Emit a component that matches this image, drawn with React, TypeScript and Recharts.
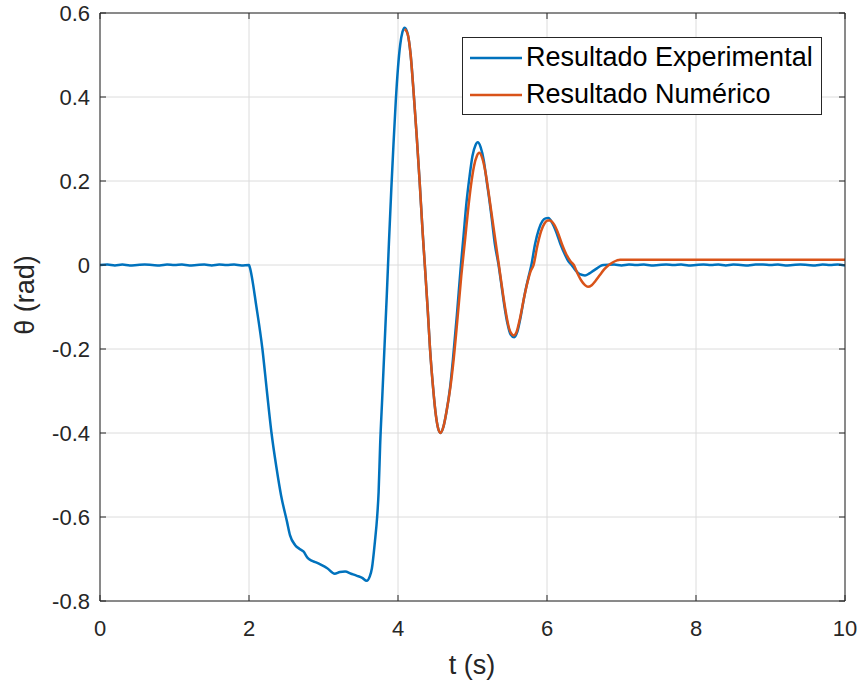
import { LineChart, Line, XAxis, YAxis, CartesianGrid, Legend } from 'recharts'

// time (s) / angle (rad) samples of the measured response
const expT = [
  0.0, 0.1, 0.2, 0.3, 0.4, 0.5, 0.6, 0.7, 0.8, 0.9, 1.0, 1.1, 1.2, 1.3, 1.4, 1.5, 1.6, 1.7, 1.8, 1.9,
  2.0, 2.01, 2.1, 2.18, 2.24, 2.3, 2.37, 2.43, 2.51, 2.55, 2.62, 2.68, 2.73, 2.79, 2.84, 2.9, 2.97, 3.05,
  3.15, 3.22, 3.29, 3.37, 3.45, 3.52, 3.58, 3.62, 3.65, 3.69, 3.72, 3.74, 3.76, 3.79, 3.82, 3.85, 3.88,
  3.91, 3.94, 3.97, 4.0, 4.03, 4.06, 4.09, 4.13, 4.17, 4.21, 4.25, 4.29, 4.33, 4.36, 4.4, 4.43, 4.47,
  4.51, 4.54, 4.57, 4.61, 4.65, 4.7, 4.74, 4.79, 4.84, 4.88, 4.92, 4.96, 5.0, 5.04, 5.07, 5.11, 5.15,
  5.19, 5.23, 5.26, 5.3, 5.35, 5.39, 5.43, 5.47, 5.51, 5.56, 5.6, 5.65, 5.7, 5.75, 5.79, 5.84, 5.89,
  5.94, 5.98, 6.02, 6.07, 6.12, 6.18, 6.24, 6.29, 6.33, 6.38, 6.44, 6.51, 6.57, 6.62, 6.67, 6.72, 6.76,
  6.9, 7.0, 7.1, 7.2, 7.3, 7.4, 7.5, 7.6, 7.7, 7.8, 7.9, 8.0, 8.1, 8.2, 8.3, 8.4, 8.5, 8.6, 8.7, 8.8,
  8.9, 9.0, 9.1, 9.2, 9.3, 9.4, 9.5, 9.6, 9.7, 9.8, 9.9, 10.0,
]
const expTheta = [
  0.0, 0.001, -0.001, 0.001, -0.001, 0.0, 0.001, 0.0, -0.001, 0.001, 0.0, 0.001, -0.001, 0.0, 0.001, -0.001, 0.001, 0.0, 0.001, -0.001,
  0.0, -0.005, -0.1, -0.2, -0.3, -0.397, -0.484, -0.548, -0.611, -0.643, -0.667, -0.676, -0.682, -0.698, -0.704, -0.708, -0.714, -0.722,
  -0.735, -0.731, -0.73, -0.735, -0.74, -0.745, -0.752, -0.742, -0.722, -0.659, -0.6, -0.54, -0.43, -0.31, -0.19, -0.07, 0.06,
  0.18, 0.29, 0.39, 0.47, 0.525, 0.555, 0.565, 0.55, 0.5, 0.41, 0.31, 0.2, 0.08, 0.0, -0.11, -0.2, -0.29,
  -0.36, -0.39, -0.4, -0.385, -0.35, -0.29, -0.22, -0.12, -0.01, 0.07, 0.15, 0.21, 0.26, 0.285, 0.292, 0.28, 0.25,
  0.2, 0.15, 0.108, 0.05, 0.0, -0.05, -0.1, -0.14, -0.165, -0.172, -0.16, -0.12, -0.07, -0.03, 0.0, 0.05, 0.085,
  0.105, 0.111, 0.112, 0.1, 0.08, 0.05, 0.025, 0.008, 0.0, -0.012, -0.022, -0.025, -0.02, -0.014, -0.008, -0.002, 0.0,
  0.001, -0.001, 0.001, 0.0, 0.001, -0.001, 0.0, 0.001, 0.0, 0.001, -0.001, 0.0, 0.001, 0.0, 0.001, -0.001, 0.001, 0.0, -0.001, 0.001,
  0.001, 0.0, 0.001, -0.001, 0.0, 0.001, 0.0, -0.001, 0.001, 0.0, 0.001, -0.001,
]

// simulated response, starts at the first peak
const numT = [
  4.09, 4.13, 4.17, 4.21, 4.25, 4.29, 4.33, 4.36, 4.4, 4.43, 4.47, 4.51, 4.54, 4.57, 4.61, 4.65, 4.7,
  4.75, 4.8, 4.85, 4.9, 4.94, 4.98, 5.02, 5.06, 5.09, 5.13, 5.17, 5.21, 5.25, 5.29, 5.33, 5.37, 5.41,
  5.45, 5.49, 5.52, 5.55, 5.59, 5.64, 5.69, 5.74, 5.78, 5.82, 5.87, 5.92, 5.97, 6.01, 6.04, 6.09, 6.14,
  6.2, 6.26, 6.32, 6.36, 6.41, 6.46, 6.51, 6.55, 6.6, 6.65, 6.71, 6.77, 6.83, 6.88, 6.94, 6.98, 8.0, 9.0, 10.0,
]
const numTheta = [
  0.562, 0.55, 0.5, 0.41, 0.31, 0.2, 0.08, 0.0, -0.11, -0.2, -0.29, -0.36, -0.39, -0.4, -0.385, -0.35, -0.295,
  -0.22, -0.125, -0.025, 0.06, 0.13, 0.19, 0.235, 0.26, 0.267, 0.255, 0.225, 0.18, 0.13, 0.08, 0.03, -0.02, -0.07,
  -0.115, -0.15, -0.163, -0.168, -0.16, -0.125, -0.08, -0.04, -0.015, 0.0, 0.045, 0.08, 0.1, 0.106, 0.106, 0.098, 0.08,
  0.05, 0.025, 0.008, 0.0, -0.02, -0.037, -0.048, -0.052, -0.048, -0.038, -0.024, -0.01, 0.0, 0.006, 0.011, 0.0126, 0.0126, 0.0126, 0.0126,
]

const xTicks = [0, 2, 4, 6, 8, 10]
const yTicks = [-0.8, -0.6, -0.4, -0.2, 0, 0.2, 0.4, 0.6]

const expData = expT.map((t, i) => ({ t, theta: expTheta[i] }))
const numData = numT.map((t, i) => ({ t, theta: numTheta[i] }))

const FONT = '"Liberation Sans", Arial, Helvetica, sans-serif'
const INK = '#262626'
const TICK_LEN = 6

const fmtY = (v: number) => (v === 0 ? '0' : v.toFixed(1))

// MATLAB style: ticks point into the plot box
const BottomTick = ({ x, y, payload }: any) => (
  <g>
    <line x1={x} x2={x} y1={y} y2={y - TICK_LEN} stroke={INK} />
    <text x={x} y={y + 35} textAnchor="middle" fontSize={22} fontFamily={FONT} fill={INK}>
      {payload.value}
    </text>
  </g>
)

const LeftTick = ({ x, y, payload }: any) => (
  <g>
    <line x1={x} x2={x + TICK_LEN} y1={y} y2={y} stroke={INK} />
    <text x={x - 10} y={y + 8} textAnchor="end" fontSize={22} fontFamily={FONT} fill={INK}>
      {fmtY(payload.value)}
    </text>
  </g>
)

const TopTick = ({ x, y }: any) => <line x1={x} x2={x} y1={y} y2={y + TICK_LEN} stroke={INK} />

const RightTick = ({ x, y }: any) => <line x1={x} x2={x - TICK_LEN} y1={y} y2={y} stroke={INK} />

const LegendBox = ({ payload }: any) => (
  <div
    style={{
      border: `1px solid ${INK}`,
      background: '#fff',
      padding: '1px 8px 1px 7px',
      fontFamily: FONT,
      fontSize: 27,
      color: '#000',
      lineHeight: '37px',
    }}
  >
    {(payload || []).map((p: any) => (
      <div key={p.value} style={{ display: 'flex', alignItems: 'center', whiteSpace: 'nowrap' }}>
        <svg width={52} height={10} style={{ marginRight: 4 }}>
          <line x1={0} x2={52} y1={5} y2={5} stroke={p.color} strokeWidth={2.5} />
        </svg>
        <span>{p.value}</span>
      </div>
    ))}
  </div>
)

export default function App() {
  return (
    <div>
      <style>{'body{margin:0;background:#fff}'}</style>
      <LineChart width={860} height={684} margin={{ top: 12, right: 14, left: 0, bottom: 0 }}>
        <CartesianGrid stroke="#dcdcdc" xAxisId="b" yAxisId="l" />
        <XAxis
          xAxisId="b"
          dataKey="t"
          type="number"
          domain={[0, 10]}
          ticks={xTicks}
          height={83}
          tickSize={0}
          tickMargin={0}
          tickLine={false}
          axisLine={{ stroke: INK }}
          tick={<BottomTick />}
          allowDataOverflow
          label={() => (
            <text x={472} y={674} textAnchor="middle" fontSize={27} fontFamily={FONT} fill={INK}>
              t (s)
            </text>
          )}
        />
        <XAxis
          xAxisId="top"
          orientation="top"
          dataKey="t"
          type="number"
          domain={[0, 10]}
          ticks={xTicks}
          height={1}
          tickSize={0}
          tickMargin={0}
          tickLine={false}
          axisLine={{ stroke: INK }}
          tick={<TopTick />}
          allowDataOverflow
        />
        <YAxis
          yAxisId="l"
          type="number"
          domain={[-0.8, 0.6]}
          ticks={yTicks}
          width={100}
          tickSize={0}
          tickMargin={0}
          tickLine={false}
          axisLine={{ stroke: INK }}
          tick={<LeftTick />}
          allowDataOverflow
          label={() => (
            <text
              x={34}
              y={295}
              transform="rotate(-90 34 295)"
              textAnchor="middle"
              fontSize={27}
              fontFamily={FONT}
              fill={INK}
            >
              θ (rad)
            </text>
          )}
        />
        <YAxis
          yAxisId="r"
          orientation="right"
          type="number"
          domain={[-0.8, 0.6]}
          ticks={yTicks}
          width={1}
          tickSize={0}
          tickMargin={0}
          tickLine={false}
          axisLine={{ stroke: INK }}
          tick={<RightTick />}
          allowDataOverflow
        />
        <Legend
          layout="vertical"
          align="center"
          verticalAlign="middle"
          wrapperStyle={{ left: 462, top: 37, width: 'auto' }}
          content={<LegendBox />}
        />
        <Line
          xAxisId="b"
          yAxisId="l"
          data={expData}
          dataKey="theta"
          name="Resultado Experimental"
          type="monotone"
          stroke="#0072BD"
          strokeWidth={2.5}
          dot={false}
          isAnimationActive={false}
        />
        <Line
          xAxisId="b"
          yAxisId="l"
          data={numData}
          dataKey="theta"
          name="Resultado Numérico"
          type="monotone"
          stroke="#D95319"
          strokeWidth={2.5}
          dot={false}
          isAnimationActive={false}
        />
      </LineChart>
    </div>
  )
}
